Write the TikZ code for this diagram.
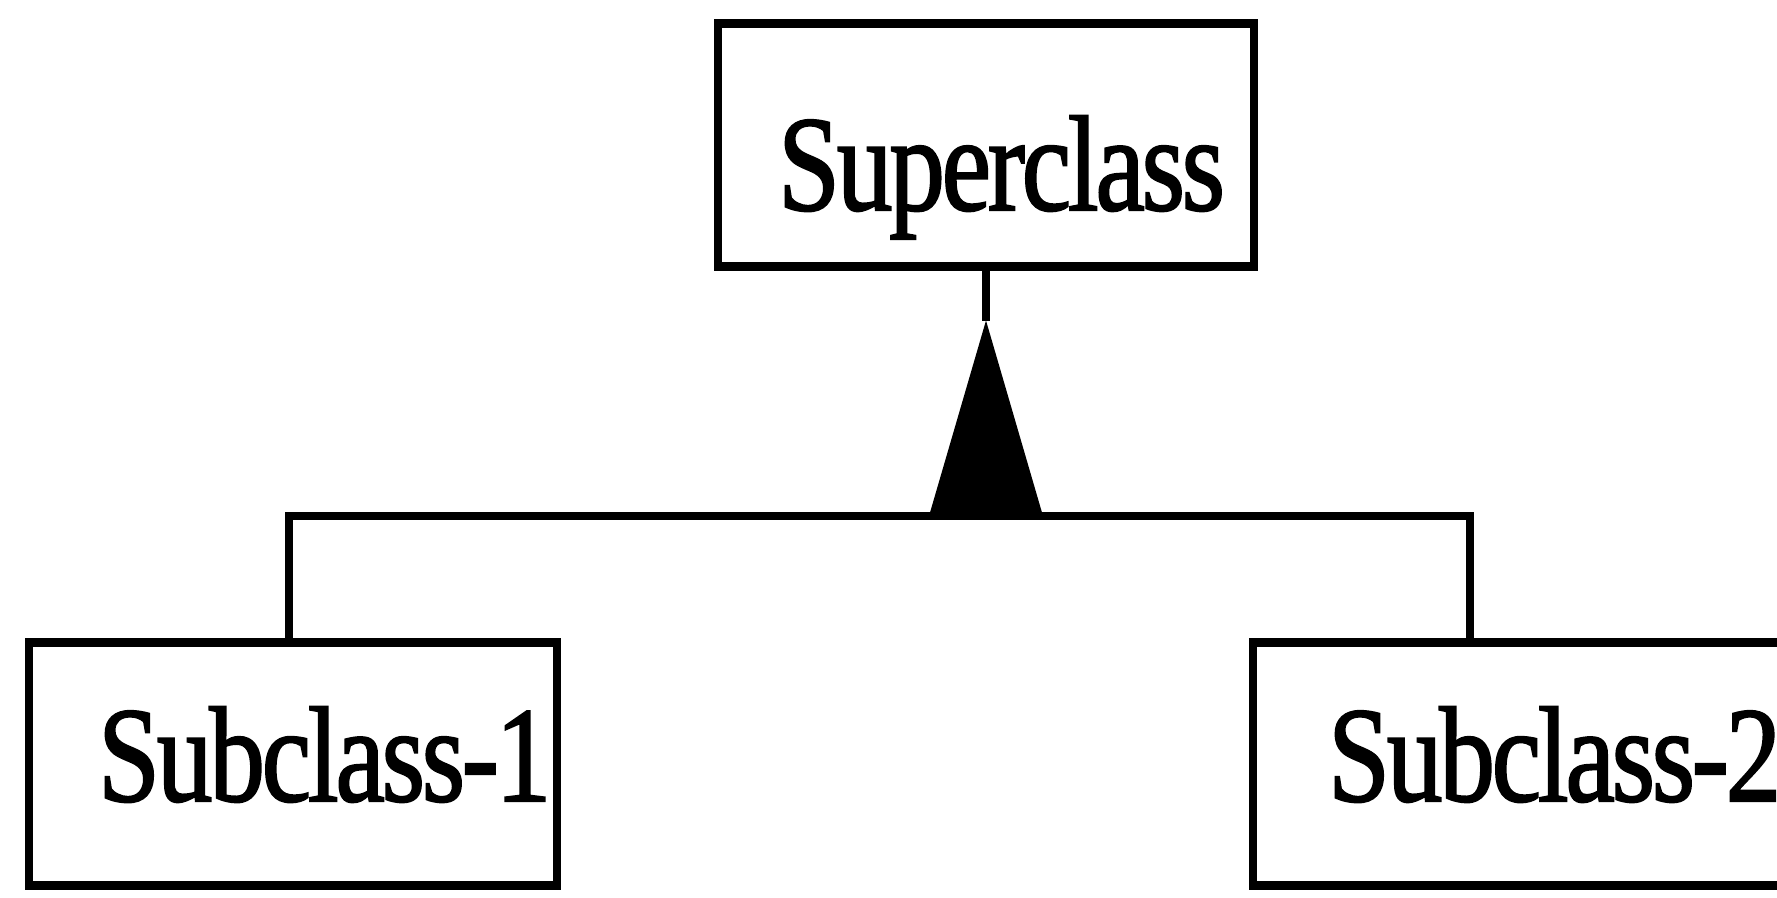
\documentclass[tikz,border=0pt]{standalone}
\usepackage{fontspec}
\setmainfont{Liberation Serif}
\newfontfamily\classfamily[LetterSpace=-3,FakeBold=1.6]{Liberation Serif}
\usetikzlibrary{calc,positioning}
\newcommand{\classfont}{\classfamily\fontsize{38.7}{40}\selectfont}

\begin{document}
\begin{tikzpicture}[line width=2.3pt,
  classbox/.style={draw,rectangle,inner sep=0pt,minimum height=2.43cm},
  classtext/.style={anchor=base west,inner sep=0pt,font=\classfont}]
\useasboundingbox (0,0) rectangle (17.77,8.97);
% class boxes
\node[classbox,minimum width=5.36cm] (super) at (9.86,7.52) {};
\node[classbox,minimum width=5.28cm] (sub1) at (2.93,1.33) {};
\node[classbox,minimum width=5.28cm] (sub2) at (15.17,1.33) {};
\node[classtext] (supertext) at (7.74,6.87) {\scalebox{0.82}[1]{Superclass}};
\node[classtext] (sub1text) at (0.94,0.96) {\scalebox{0.82}[1]{Subclass-1}};
\node[classtext] (sub2text) at (13.24,0.96) {\scalebox{0.82}[1]{Subclass-2}};
% generalization triangle
\coordinate (apex) at ($(super.south)+(0,-0.50)$);
\coordinate (joinL) at (2.89,3.81);
\coordinate (joinR) at (14.70,3.81);
\coordinate (baseL) at ($(apex |- joinL)+(-0.57,0)$);
\coordinate (baseR) at ($(apex |- joinL)+(0.57,0)$);
\draw (super.south) -- (apex);
\fill (apex) -- (baseL) -- (baseR) -- cycle;
\draw (joinL |- sub1.north) -- (joinL) -- (joinR) -- (joinR |- sub2.north);
\end{tikzpicture}
\end{document}
